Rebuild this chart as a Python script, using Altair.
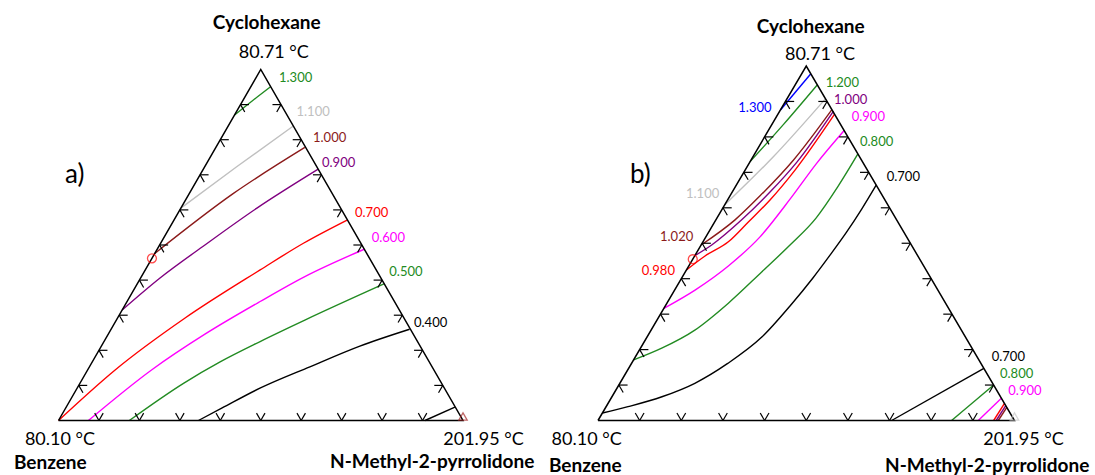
import altair as alt
import pandas as pd

# ---------------- colours ----------------
GREEN = "#228b22"
GRAY = "#c0c0c0"
BROWN = "#8b1a1a"
PURPLE = "#800080"
RED = "#ff0000"
MAGENTA = "#ff00ff"
BLACK = "#000000"
BLUE = "#0000ff"

# ---------------- data: contour lines, (x_NMP, x_Cyclohexane) mole fractions ----------------
# panel a)
A_1300 = [(0.0, 0.870), (0.024, 0.911), (0.049, 0.951)]
A_1100 = [(0.0, 0.605), (0.079, 0.723), (0.161, 0.839)]
A_1000 = [(0.0, 0.476), (0.109, 0.647), (0.220, 0.778)]
A_0900 = [(0.0, 0.315), (0.048, 0.406), (0.112, 0.500), (0.188, 0.605), (0.284, 0.716)]
A_0700 = [(0.0, 0.0), (0.068, 0.144), (0.167, 0.292), (0.284, 0.429), (0.353, 0.505), (0.428, 0.571)]
A_0600 = [(0.074, 0.0), (0.158, 0.144), (0.239, 0.246), (0.329, 0.339), (0.404, 0.410), (0.512, 0.488)]
A_0500 = [(0.175, 0.0), (0.256, 0.106), (0.316, 0.167), (0.386, 0.225), (0.466, 0.286), (0.610, 0.389)]
A_0400 = [(0.346, 0.0), (0.386, 0.035), (0.452, 0.092), (0.545, 0.153), (0.639, 0.212), (0.738, 0.260)]
A_0400b = [(0.906, 0.0), (0.961, 0.038)]
A_AZEO = (0.0, 0.462)

# panel b)
B_1300 = [(0.0, 0.876), (0.022, 0.978)]
B_1200 = [(0.0, 0.730), (0.028, 0.836), (0.053, 0.946)]
B_1100 = [(0.0, 0.608), (0.049, 0.744), (0.092, 0.906)]
B_1020 = [(0.0, 0.495), (0.046, 0.566), (0.072, 0.633), (0.102, 0.735), (0.123, 0.877)]
B_1000 = [(0.0, 0.465), (0.0255, 0.495), (0.062, 0.566), (0.091, 0.645), (0.113, 0.729), (0.129, 0.873)]
B_0980 = [(0.0, 0.4245), (0.025, 0.464), (0.061, 0.504), (0.081, 0.560), (0.102, 0.622), (0.120, 0.707),
          (0.136, 0.864)]
B_0900 = [(0.0, 0.3165), (0.049, 0.368), (0.095, 0.436), (0.130, 0.518), (0.149, 0.625), (0.162, 0.724),
          (0.182, 0.818)]
B_0800 = [(0.0, 0.171), (0.051, 0.204), (0.105, 0.255), (0.1475, 0.331), (0.1835, 0.419), (0.2135, 0.495),
          (0.238, 0.571), (0.246, 0.659), (0.248, 0.752)]
B_0700 = [(0.0, 0.021), (0.0525, 0.039), (0.120, 0.067), (0.180, 0.105), (0.231, 0.161), (0.276, 0.236),
          (0.2995, 0.323), (0.315, 0.402), (0.324, 0.467), (0.331, 0.529), (0.335, 0.597), (0.336, 0.664)]
B_0700b = [(0.705, 0.0), (0.853, 0.147)]
B_0800b = [(0.849, 0.0), (0.900, 0.100)]
B_0900b = [(0.913, 0.0), (0.937, 0.063)]
B_0980b = [(0.950, 0.0), (0.952, 0.048)]
B_1000b = [(0.956, 0.0), (0.958, 0.042)]
B_1020b = [(0.961, 0.0), (0.963, 0.037)]
B_AZEO = (0.0, 0.455)

TICKS = [0.1, 0.2, 0.3, 0.4, 0.5, 0.6, 0.7, 0.8, 0.9]

A_CURVES = [(GREEN, A_1300), (GRAY, A_1100), (BROWN, A_1000), (PURPLE, A_0900), (RED, A_0700),
            (MAGENTA, A_0600), (GREEN, A_0500), (BLACK, A_0400), (BLACK, A_0400b)]
B_CURVES = [(BLUE, B_1300), (GREEN, B_1200), (GRAY, B_1100), (BROWN, B_1020), (PURPLE, B_1000),
            (RED, B_0980), (MAGENTA, B_0900), (GREEN, B_0800), (BLACK, B_0700), (BLACK, B_0700b),
            (GREEN, B_0800b), (MAGENTA, B_0900b), (RED, B_0980b), (PURPLE, B_1000b), (BROWN, B_1020b)]

# ---------------- layout ----------------
FONT = "Lato"
H = 475
W_A, W_B = 547, 548
CAL_A = dict(left=58.5, right=463.0, base=420.5, top=69.5)
CAL_B = dict(left=51.0, right=467.5, base=420.5, top=66.0)
TICK_LEN = 0.021

# level labels: text, colour, x, y (panel pixels)
A_LABELS = [("1.300", GREEN, 279, 78), ("1.100", GRAY, 296.5, 112), ("1.000", BROWN, 313, 137.5),
            ("0.900", PURPLE, 322, 162.5), ("0.700", RED, 355, 213), ("0.600", MAGENTA, 371.7, 238.3),
            ("0.500", GREEN, 389.3, 272.3), ("0.400", BLACK, 414, 322.7)]
B_LABELS = [("1.300", BLUE, 191.3, 108.3), ("1.200", GREEN, 278.7, 82.7), ("1.000", PURPLE, 287, 100),
            ("0.900", MAGENTA, 304.7, 116.7), ("0.800", GREEN, 313, 141.7), ("0.700", BLACK, 339.7, 177.3),
            ("1.100", GRAY, 139, 194.3), ("1.020", BROWN, 113, 236.7), ("0.980", RED, 94.7, 270.7),
            ("0.700", BLACK, 444.7, 356.7), ("0.800", GREEN, 453, 374), ("0.900", MAGENTA, 461.3, 390.7)]

# big texts: text, x, y, align, size, weight
A_TEXTS = [("Cyclohexane", 266.7, 23, "center", 19, "bold"), ("80.71 °C", 273.8, 53, "center", 18, "normal"),
           ("80.10 °C", 95, 440, "right", 18, "normal"), ("Benzene", 86.7, 463, "right", 19, "bold"),
           ("201.95 °C", 443.3, 440, "left", 18, "normal"),
           ("N-Methyl-2-pyrrolidone", 330, 462, "left", 19, "bold"), ("a)", 65, 175, "left", 26, "normal")]
B_TEXTS = [("Cyclohexane", 263.7, 26.7, "center", 19, "bold"), ("80.71 °C", 273, 55, "center", 18, "normal"),
           ("80.10 °C", 74.7, 440, "right", 18, "normal"), ("Benzene", 74.7, 466, "right", 19, "bold"),
           ("201.95 °C", 436.3, 440, "left", 18, "normal"),
           ("N-Methyl-2-pyrrolidone", 338, 466, "left", 19, "bold"), ("b)", 83, 175, "left", 26, "normal")]


def tick_rows():
    d = TICK_LEN
    rows = []
    for t in TICKS:
        rows.append((t, 0.0, t, d))
        rows.append((t, 0.0, t - d, d))
        rows.append((0.0, t, d, t))
        rows.append((0.0, t, d, t - d))
        rows.append((1 - t, t, 1 - t - d, t))
        rows.append((1 - t, t, 1 - t, t - d))
    return pd.DataFrame(rows, columns=["n1", "c1", "n2", "c2"])


def panel(curves, azeo, tri_color, labels, texts, cal, width):
    side = cal["right"] - cal["left"]
    hgt = cal["base"] - cal["top"]
    xs = alt.Scale(domain=[-cal["left"] / side, (width - cal["left"]) / side], nice=False, zero=False)
    ys = alt.Scale(domain=[-(H - cal["base"]) / hgt, cal["base"] / hgt], nice=False, zero=False)

    rows = []
    for cid, (col, pts) in enumerate(curves):
        for i, (n, c) in enumerate(pts):
            rows.append(dict(cid=cid, i=i, nmp=n, ch=c, color=col))
    df = pd.DataFrame(rows)

    lines = alt.Chart(df).transform_calculate(X="datum.nmp + datum.ch / 2").mark_line(
        strokeWidth=1.4, interpolate="monotone"
    ).encode(
        x=alt.X("X:Q", scale=xs, axis=None),
        y=alt.Y("ch:Q", scale=ys, axis=None),
        detail="cid:N",
        order="i:Q",
        color=alt.Color("color:N", scale=None),
    )

    frame_df = pd.DataFrame({"nmp": [0, 1, 0, 0], "ch": [0, 0, 1, 0], "i": [0, 1, 2, 3]})
    frame = alt.Chart(frame_df).transform_calculate(X="datum.nmp + datum.ch / 2").mark_line(
        color="black", strokeWidth=1.5
    ).encode(x=alt.X("X:Q", scale=xs, axis=None), y=alt.Y("ch:Q", scale=ys, axis=None), order="i:Q")

    ticks = alt.Chart(tick_rows()).transform_calculate(
        X1="datum.n1 + datum.c1 / 2", X2="datum.n2 + datum.c2 / 2"
    ).mark_rule(color="black", strokeWidth=1.2).encode(
        x=alt.X("X1:Q", scale=xs, axis=None), y=alt.Y("c1:Q", scale=ys, axis=None),
        x2="X2:Q", y2="c2:Q",
    )

    az = alt.Chart(pd.DataFrame({"nmp": [azeo[0]], "ch": [azeo[1]]})).transform_calculate(
        X="datum.nmp + datum.ch / 2"
    ).mark_point(shape="circle", filled=False, color=RED, size=80, strokeWidth=1.3).encode(
        x=alt.X("X:Q", scale=xs, axis=None), y=alt.Y("ch:Q", scale=ys, axis=None)
    )

    tri = alt.Chart(pd.DataFrame({"nmp": [1.0], "ch": [0.0]})).transform_calculate(
        X="datum.nmp + datum.ch / 2"
    ).mark_point(shape="triangle-up", filled=False, color=tri_color, size=70, strokeWidth=1.3, yOffset=-4).encode(
        x=alt.X("X:Q", scale=xs, axis=None), y=alt.Y("ch:Q", scale=ys, axis=None)
    )

    layers = [lines, frame, ticks, az, tri]
    for t, col, x, y in labels:
        layers.append(
            alt.Chart(pd.DataFrame({"t": [t]})).mark_text(
                font=FONT, fontSize=13, color=col, align="left", baseline="middle"
            ).encode(x=alt.value(x), y=alt.value(y), text="t:N")
        )
    for t, x, y, al, sz, wt in texts:
        layers.append(
            alt.Chart(pd.DataFrame({"t": [t]})).mark_text(
                font=FONT, fontSize=sz, fontWeight=wt, color="black", align=al, baseline="middle"
            ).encode(x=alt.value(x), y=alt.value(y), text="t:N")
        )
    return alt.layer(*layers).properties(width=width, height=H)


pa = panel(A_CURVES, A_AZEO, "#a52a2a", A_LABELS, A_TEXTS, CAL_A, W_A)
pb = panel(B_CURVES, B_AZEO, "#c8c8c8", B_LABELS, B_TEXTS, CAL_B, W_B)

chart = alt.hconcat(pa, pb, spacing=0).properties(
    padding=0, background="white"
).configure_view(stroke=None)

chart.save("out.html", embed_options={"renderer": "svg", "actions": False})
